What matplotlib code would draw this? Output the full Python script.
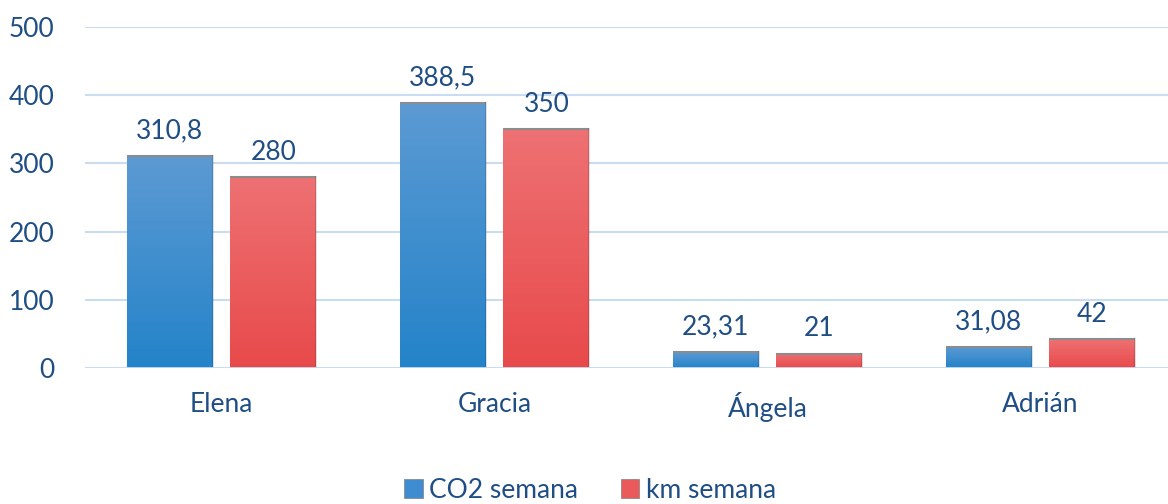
import numpy as np
import matplotlib
matplotlib.use("Agg")
from matplotlib import pyplot as plt
from matplotlib.colors import LinearSegmentedColormap
from matplotlib.patches import Patch

plt.rcParams['font.family'] = ['Lato', 'DejaVu Sans']

names = ["Elena", "Gracia", "Ángela", "Adrián"]
co2 = [310.8, 388.5, 23.31, 31.08]
km = [280, 350, 21, 42]
co2_labels = ["310,8", "388,5", "23,31", "31,08"]
km_labels = ["280", "350", "21", "42"]

TXT = "#1F4E84"
GRID = "#C9DCF0"
FS = 19

fig = plt.figure(figsize=(11.68, 5.04), dpi=100)
ax = fig.add_axes([85 / 1168, 1 - 368 / 504, (1177 - 85) / 1168, 341 / 504])

x = np.arange(len(names))
w = 0.315
off = 0.19

b1 = ax.bar(x - off, co2, w, color="#3F8DD0", zorder=2)
b2 = ax.bar(x + off, km, w, color="#EA5A5C", zorder=2)

# vertical gradient over each bar
blue_cm = LinearSegmentedColormap.from_list("b", ["#2483C9", "#5C9AD3"])
red_cm = LinearSegmentedColormap.from_list("r", ["#E84A4B", "#EE7173"])
grad = np.linspace(0, 1, 256).reshape(-1, 1)
for bars, cm in ((b1, blue_cm), (b2, red_cm)):
    for b in bars:
        bx, bw, bh = b.get_x(), b.get_width(), b.get_height()
        im = ax.imshow(grad, cmap=cm, origin="lower", aspect="auto",
                       extent=(bx, bx + bw, 0, bh), zorder=3)
        im.set_clip_path(b)
        ax.plot([bx, bx + bw], [bh, bh], color="#8C8C8C", lw=1.5, zorder=4,
                solid_capstyle="butt")
        ax.plot([bx + bw, bx + bw], [0, bh], color="#000000", alpha=0.12,
                lw=1.5, zorder=4)

for bars, labs in ((b1, co2_labels), (b2, km_labels)):
    for b, t in zip(bars, labs):
        ax.annotate(t, (b.get_x() + b.get_width() / 2, b.get_height()),
                    xytext=(0, 9), textcoords="offset points",
                    ha="center", va="bottom", fontsize=FS, color=TXT)

ax.set_xlim(-0.5, len(names) - 0.5)
ax.set_ylim(0, 500)
ax.set_yticks(range(0, 501, 100))
ax.set_xticks(x)
ax.set_xticklabels(names)
ax.tick_params(axis="both", length=0, labelsize=FS, labelcolor=TXT)
ax.tick_params(axis="y", pad=22)
ax.tick_params(axis="x", pad=17)
ax.grid(axis="y", color=GRID, lw=1.5, zorder=0)
ax.set_axisbelow(True)
for s in ax.spines.values():
    s.set_visible(False)
ax.axhline(0, color=GRID, lw=2, zorder=5)

handles = [Patch(facecolor="#3F8DD0", edgecolor="#7F7F7F", lw=0.5),
           Patch(facecolor="#EA5A5C", edgecolor="#7F7F7F", lw=0.5)]
fig.legend(handles, ["CO2 semana", "km semana"], loc="center",
           bbox_to_anchor=(590 / 1168, 1 - 490 / 504), ncol=2, frameon=False,
           fontsize=FS, labelcolor=TXT, handlelength=0.7, handleheight=0.7,
           handletextpad=0.25, columnspacing=1.6)

fig.savefig("out.png", dpi=100)
